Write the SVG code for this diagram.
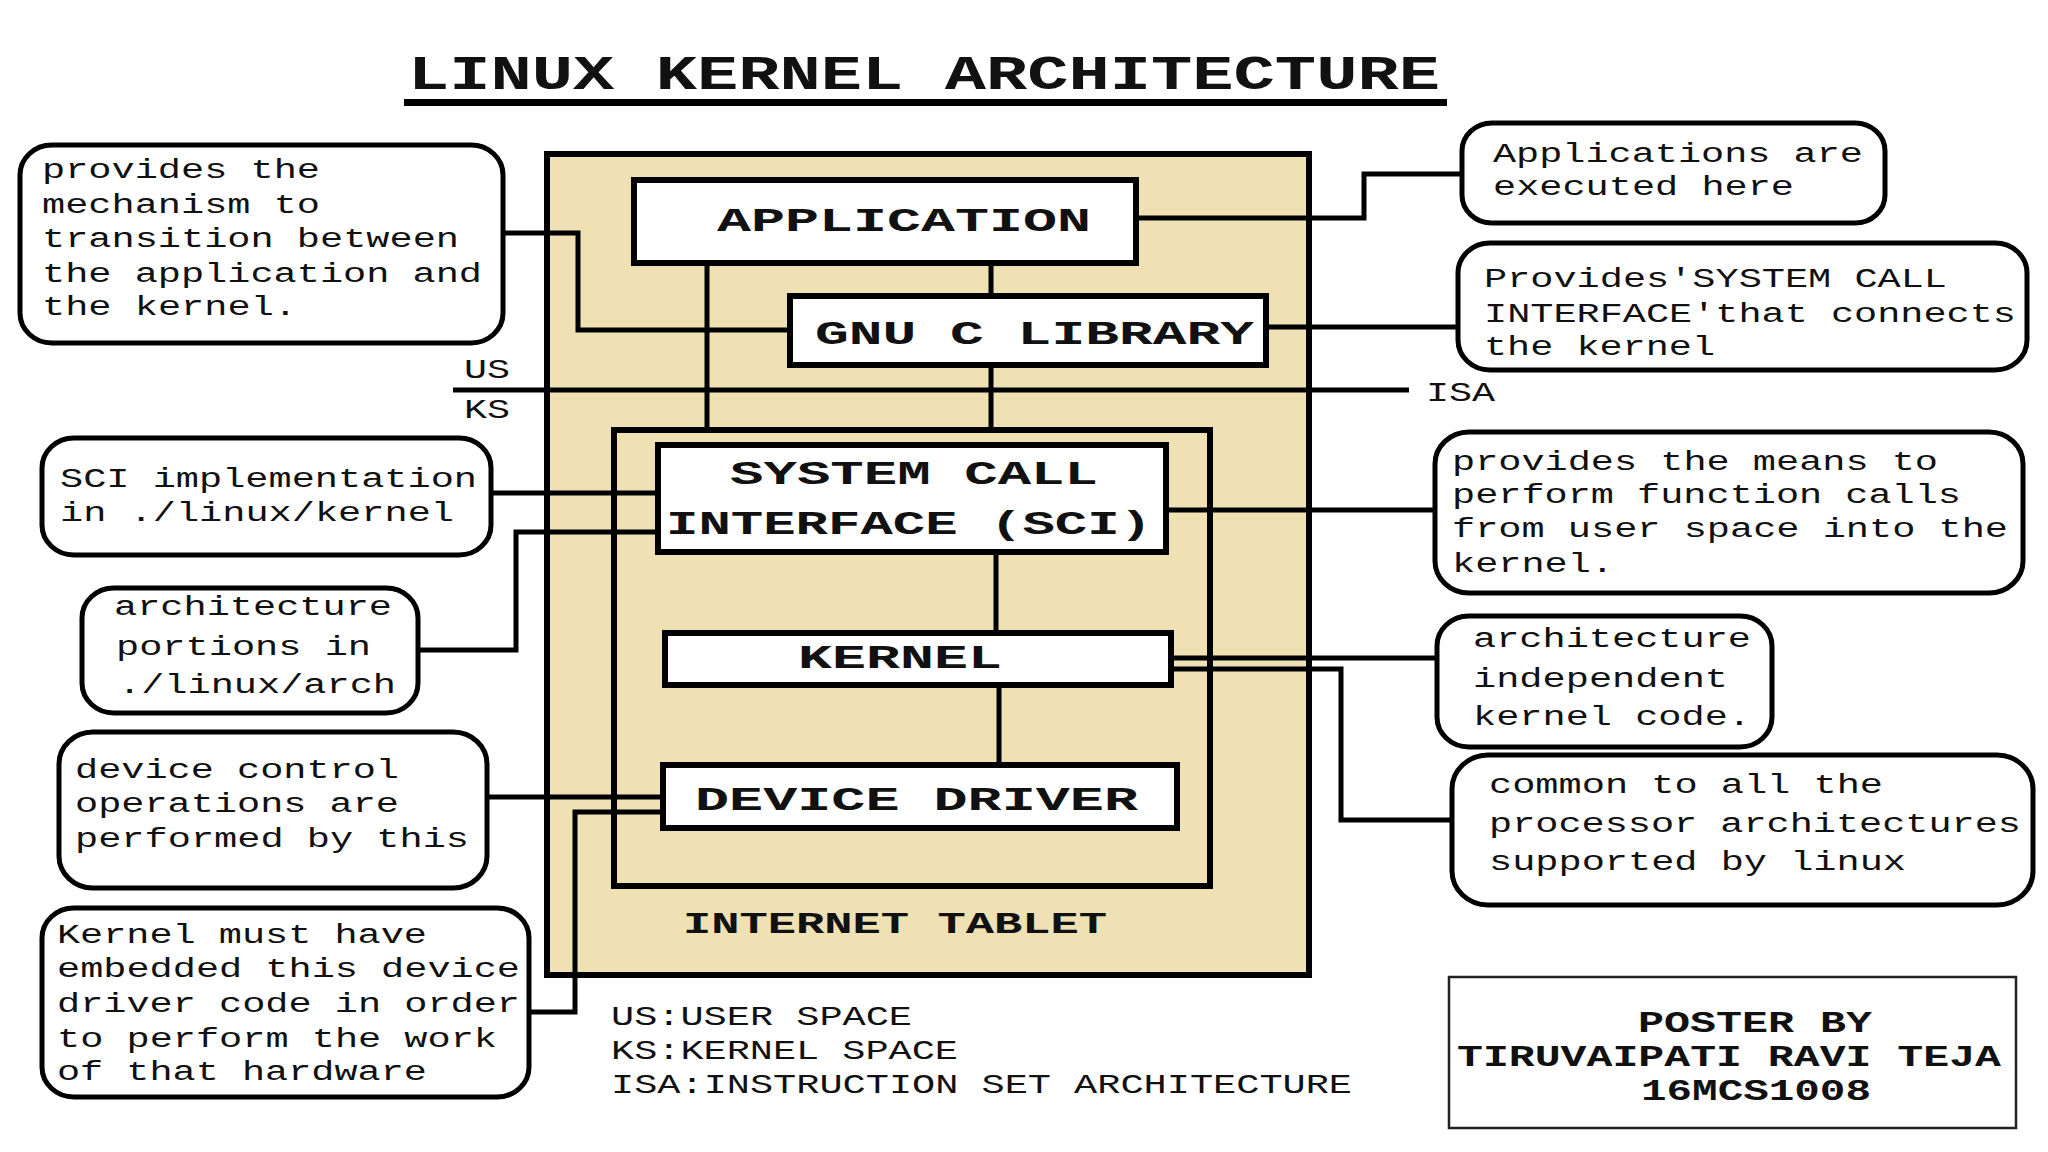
<svg xmlns="http://www.w3.org/2000/svg" width="2048" height="1152" viewBox="0 0 2048 1152">
<style>
.bg{fill:#ffffff}
.tan{fill:#EFE1B3;stroke:#000;stroke-width:6}
.ks{fill:none;stroke:#000;stroke-width:6}
.lbl{fill:#fff;stroke:#000;stroke-width:6}
.call{fill:#fff;stroke:#000;stroke-width:5}
.poster{fill:#fff;stroke:#222;stroke-width:2.5}
.conn{fill:none;stroke:#000;stroke-width:5}
.t{font-family:"Liberation Mono","DejaVu Sans Mono",monospace;font-size:27px;fill:#111}
.b{font-family:"Liberation Mono","DejaVu Sans Mono",monospace;font-size:34px;font-weight:bold;fill:#111}
.s{font-family:"Liberation Mono","DejaVu Sans Mono",monospace;font-size:29px;font-weight:bold;fill:#111}
.title{font-family:"Liberation Mono","DejaVu Sans Mono",monospace;font-size:48px;font-weight:bold;fill:#111}
</style>
<rect class="bg" x="0" y="0" width="2048" height="1152"/>

<g id="title">
<text class="title" x="408" y="89" textLength="1032" lengthAdjust="spacingAndGlyphs">LINUX KERNEL ARCHITECTURE</text>
<rect x="404" y="99" width="1043" height="7" fill="#000"/>
</g>

<g id="internet-tablet">
<rect class="tan" x="547" y="154" width="762" height="821"/>
<text class="s" x="683" y="933" textLength="424" lengthAdjust="spacingAndGlyphs">INTERNET TABLET</text>
</g>
<g id="kernel-space">
<rect class="ks" x="614" y="430" width="596" height="456"/>
</g>

<g id="isa-line">
<line x1="453" y1="390" x2="1409" y2="390" stroke="#000" stroke-width="5"/>
<text class="t" x="464" y="378" textLength="46" lengthAdjust="spacingAndGlyphs">US</text>
<text class="t" x="464" y="418" textLength="46" lengthAdjust="spacingAndGlyphs">KS</text>
<text class="t" x="1426" y="401" textLength="69" lengthAdjust="spacingAndGlyphs">ISA</text>
</g>

<g id="connectors">
<path class="conn" d="M503,233 H578 V330 H790"/>
<path class="conn" d="M707,263 V430"/>
<path class="conn" d="M991,263 V296"/>
<path class="conn" d="M991,365 V430"/>
<path class="conn" d="M996,552 V633"/>
<path class="conn" d="M999,685 V765"/>
<path class="conn" d="M491,493 H658"/>
<path class="conn" d="M418,650 H516 V532 H658"/>
<path class="conn" d="M487,797 H663"/>
<path class="conn" d="M529,1012 H575 V812 H663"/>
<path class="conn" d="M1136,218 H1364 V174 H1462"/>
<path class="conn" d="M1266,327 H1458"/>
<path class="conn" d="M1166,510 H1435"/>
<path class="conn" d="M1171,658 H1437"/>
<path class="conn" d="M1171,669 H1341 V820 H1452"/>
</g>

<g id="application">
<rect class="lbl" x="634" y="180" width="502" height="83"/>
<text class="b" x="717" y="231" textLength="374" lengthAdjust="spacingAndGlyphs">APPLICATION</text>
</g>
<g id="gnu-c-library">
<rect class="lbl" x="790" y="296" width="476" height="69"/>
<text class="b" x="815" y="344" textLength="439" lengthAdjust="spacingAndGlyphs">GNU C LIBRARY</text>
</g>
<g id="sci">
<rect class="lbl" x="658" y="445" width="508" height="107"/>
<text class="b" x="730" y="484" textLength="368" lengthAdjust="spacingAndGlyphs">SYSTEM CALL</text>
<text class="b" x="666" y="534" textLength="486" lengthAdjust="spacingAndGlyphs">INTERFACE (SCI)</text>
</g>
<g id="kernel">
<rect class="lbl" x="665" y="633" width="506" height="52"/>
<text class="b" x="798" y="668" textLength="204" lengthAdjust="spacingAndGlyphs">KERNEL</text>
</g>
<g id="device-driver">
<rect class="lbl" x="663" y="765" width="514" height="63"/>
<text class="b" x="695" y="810" textLength="443" lengthAdjust="spacingAndGlyphs">DEVICE DRIVER</text>
</g>

<g id="note-transition">
<rect class="call" x="20" y="145" width="483" height="198" rx="32" ry="30"/>
<text class="t" x="42" y="178" textLength="278" lengthAdjust="spacingAndGlyphs">provides the</text>
<text class="t" x="42" y="213" textLength="278" lengthAdjust="spacingAndGlyphs">mechanism to</text>
<text class="t" x="42" y="247" textLength="417" lengthAdjust="spacingAndGlyphs">transition between</text>
<text class="t" x="42" y="282" textLength="440" lengthAdjust="spacingAndGlyphs">the application and</text>
<text class="t" x="42" y="315" textLength="255" lengthAdjust="spacingAndGlyphs">the kernel.</text>
</g>

<g id="note-applications">
<rect class="call" x="1462" y="123" width="423" height="100" rx="30" ry="28"/>
<text class="t" x="1493" y="162" textLength="370" lengthAdjust="spacingAndGlyphs">Applications are</text>
<text class="t" x="1493" y="195" textLength="301" lengthAdjust="spacingAndGlyphs">executed here</text>
</g>

<g id="note-glibc">
<rect class="call" x="1458" y="243" width="569" height="127" rx="32" ry="30"/>
<text class="t" x="1484" y="287" textLength="463" lengthAdjust="spacingAndGlyphs">Provides'SYSTEM CALL</text>
<text class="t" x="1484" y="322" textLength="532" lengthAdjust="spacingAndGlyphs">INTERFACE'that connects</text>
<text class="t" x="1484" y="355" textLength="231" lengthAdjust="spacingAndGlyphs">the kernel</text>
</g>

<g id="note-sci-impl">
<rect class="call" x="42" y="438" width="449" height="117" rx="32" ry="30"/>
<text class="t" x="60" y="487" textLength="417" lengthAdjust="spacingAndGlyphs">SCI implementation</text>
<text class="t" x="60" y="521" textLength="394" lengthAdjust="spacingAndGlyphs">in ./linux/kernel</text>
</g>

<g id="note-arch-portions">
<rect class="call" x="82" y="588" width="336" height="125" rx="32" ry="30"/>
<text class="t" x="114" y="615" textLength="278" lengthAdjust="spacingAndGlyphs">architecture</text>
<text class="t" x="116" y="655" textLength="255" lengthAdjust="spacingAndGlyphs">portions in</text>
<text class="t" x="118" y="693" textLength="278" lengthAdjust="spacingAndGlyphs">./linux/arch</text>
</g>

<g id="note-device-control">
<rect class="call" x="59" y="732" width="428" height="156" rx="34" ry="32"/>
<text class="t" x="75" y="778" textLength="324" lengthAdjust="spacingAndGlyphs">device control</text>
<text class="t" x="75" y="812" textLength="324" lengthAdjust="spacingAndGlyphs">operations are</text>
<text class="t" x="75" y="847" textLength="394" lengthAdjust="spacingAndGlyphs">performed by this</text>
</g>

<g id="note-embedded">
<rect class="call" x="42" y="908" width="487" height="189" rx="32" ry="30"/>
<text class="t" x="57" y="943" textLength="370" lengthAdjust="spacingAndGlyphs">Kernel must have</text>
<text class="t" x="57" y="977" textLength="463" lengthAdjust="spacingAndGlyphs">embedded this device</text>
<text class="t" x="57" y="1012" textLength="463" lengthAdjust="spacingAndGlyphs">driver code in order</text>
<text class="t" x="57" y="1047" textLength="440" lengthAdjust="spacingAndGlyphs">to perform the work</text>
<text class="t" x="57" y="1080" textLength="370" lengthAdjust="spacingAndGlyphs">of that hardware</text>
</g>

<g id="note-function-calls">
<rect class="call" x="1435" y="432" width="588" height="161" rx="34" ry="32"/>
<text class="t" x="1452" y="470" textLength="486" lengthAdjust="spacingAndGlyphs">provides the means to</text>
<text class="t" x="1452" y="503" textLength="509" lengthAdjust="spacingAndGlyphs">perform function calls</text>
<text class="t" x="1452" y="537" textLength="556" lengthAdjust="spacingAndGlyphs">from user space into the</text>
<text class="t" x="1452" y="572" textLength="162" lengthAdjust="spacingAndGlyphs">kernel.</text>
</g>

<g id="note-arch-independent">
<rect class="call" x="1437" y="616" width="335" height="131" rx="32" ry="30"/>
<text class="t" x="1473" y="647" textLength="278" lengthAdjust="spacingAndGlyphs">architecture</text>
<text class="t" x="1473" y="687" textLength="255" lengthAdjust="spacingAndGlyphs">independent</text>
<text class="t" x="1473" y="725" textLength="278" lengthAdjust="spacingAndGlyphs">kernel code.</text>
</g>

<g id="note-common">
<rect class="call" x="1452" y="755" width="581" height="150" rx="36" ry="34"/>
<text class="t" x="1489" y="793" textLength="394" lengthAdjust="spacingAndGlyphs">common to all the</text>
<text class="t" x="1489" y="832" textLength="532" lengthAdjust="spacingAndGlyphs">processor architectures</text>
<text class="t" x="1489" y="870" textLength="417" lengthAdjust="spacingAndGlyphs">supported by linux</text>
</g>

<g id="legend">
<text class="t" x="611" y="1025" textLength="301" lengthAdjust="spacingAndGlyphs">US:USER SPACE</text>
<text class="t" x="611" y="1059" textLength="347" lengthAdjust="spacingAndGlyphs">KS:KERNEL SPACE</text>
<text class="t" x="611" y="1093" textLength="741" lengthAdjust="spacingAndGlyphs">ISA:INSTRUCTION SET ARCHITECTURE</text>
</g>

<g id="poster">
<rect class="poster" x="1449" y="977" width="567" height="151"/>
<text class="s" x="1638" y="1032" textLength="234" lengthAdjust="spacingAndGlyphs">POSTER BY</text>
<text class="s" x="1457" y="1066" textLength="544" lengthAdjust="spacingAndGlyphs">TIRUVAIPATI RAVI TEJA</text>
<text class="s" x="1641" y="1100" textLength="230" lengthAdjust="spacingAndGlyphs">16MCS1008</text>
</g>
</svg>
